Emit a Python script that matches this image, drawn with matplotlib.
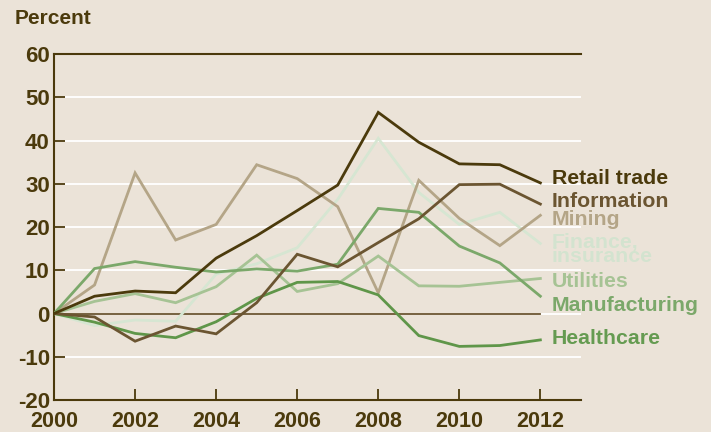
import matplotlib
matplotlib.use("Agg")
import matplotlib.pyplot as plt

years = list(range(2000, 2013))
retail = [0, 4.0, 5.2, 4.8, 12.8, 18.0, 23.8, 29.7, 46.5, 39.6, 34.6, 34.4, 30.2]
information = [0, -0.8, -6.4, -2.9, -4.7, 2.5, 13.7, 10.8, 16.4, 21.9, 29.8, 29.9, 25.3]
mining = [0, 6.6, 32.5, 17.0, 20.6, 34.4, 31.2, 24.7, 4.8, 30.8, 22.0, 15.7, 22.7]
finance = [0, -2.8, -1.5, -1.8, 9.1, 11.5, 15.2, 26.4, 40.5, 28.0, 20.6, 23.4, 16.2]
utilities = [0, 2.8, 4.6, 2.5, 6.2, 13.5, 5.1, 6.9, 13.3, 6.4, 6.3, 7.2, 8.1]
manufacturing = [0, 10.4, 12.0, 10.7, 9.6, 10.3, 9.8, 11.4, 24.3, 23.4, 15.6, 11.7, 4.0]
healthcare = [0, -2.0, -4.6, -5.6, -1.9, 3.5, 7.2, 7.4, 4.3, -5.1, -7.6, -7.4, -6.1]

series = [
    ("Retail trade", retail, "#4b3a0c", "#4b3a0c", 31.2),
    ("Information", information, "#6b5531", "#6b5531", 26.0),
    ("Mining", mining, "#b4a587", "#b4a587", 21.8),
    ("Finance,\ninsurance", finance, "#d6e6d2", "#d3e3cf", 14.8),
    ("Utilities", utilities, "#a6c394", "#a6c394", 7.4),
    ("Manufacturing", manufacturing, "#7ba86a", "#7ba86a", 1.9),
    ("Healthcare", healthcare, "#5f9649", "#659b51", -5.8),
]
draw_order = ["Finance,\ninsurance", "Mining", "Utilities", "Manufacturing", "Healthcare", "Information", "Retail trade"]

yticks = [-20, -10, 0, 10, 20, 30, 40, 50, 60]
xticks = [2000, 2002, 2004, 2006, 2008, 2010, 2012]

bg = "#ebe3d8"
dark = "#4b3a0c"
fam = ["Liberation Sans", "DejaVu Sans"]

fig = plt.figure(figsize=(7.11, 4.32), dpi=100, facecolor=bg)
ax = fig.add_axes([0.076, 0.074, 0.741, 0.801], facecolor=bg)

for y in [-10, 0, 10, 20, 30, 40, 50]:
    ax.axhline(y, color="white", lw=1.3, zorder=1)
ax.plot([2000, 2012], [0, 0], color="#6b5531", lw=1.3, zorder=2)

lookup = {s[0]: s for s in series}
for name in draw_order:
    label, vals, lc, tc, ly = lookup[name]
    ax.plot(years, vals, color=lc, lw=2.0, zorder=3, solid_joinstyle="miter")

for label, vals, lc, tc, ly in series:
    ax.text(0.945, ly, label, transform=ax.get_yaxis_transform(), color=tc,
            fontsize=15.3, fontweight="bold", family=fam,
            va="center", ha="left", linespacing=0.72, clip_on=False, zorder=5)

ax.set_xlim(2000, 2013)
ax.set_ylim(-20, 60)
ax.set_xticks(xticks)
ax.set_yticks(yticks)
ax.set_xticklabels([str(x) for x in xticks])
ax.set_yticklabels([str(y) for y in yticks])
for lab in ax.get_yticklabels():
    lab.set_fontfamily(fam)
    lab.set_fontweight("bold")
    lab.set_fontsize(16)
    lab.set_color(dark)
for lab in ax.get_xticklabels():
    lab.set_fontfamily(fam)
    lab.set_fontweight("bold")
    lab.set_fontsize(15.5)
    lab.set_color(dark)
ax.tick_params(axis="both", direction="in", length=8, width=1.3, color=dark)
ax.tick_params(axis="y", pad=3)
ax.tick_params(axis="x", pad=8)

for side in ["left", "top", "bottom"]:
    ax.spines[side].set_color(dark)
    ax.spines[side].set_linewidth(1.5)
ax.spines["right"].set_visible(False)

fig.text(15/711, 1 - 18/432, "Percent", color=dark, fontsize=15, fontweight="bold",
         family=fam, va="center", ha="left")

fig.savefig("out.png", dpi=100, facecolor=bg)
